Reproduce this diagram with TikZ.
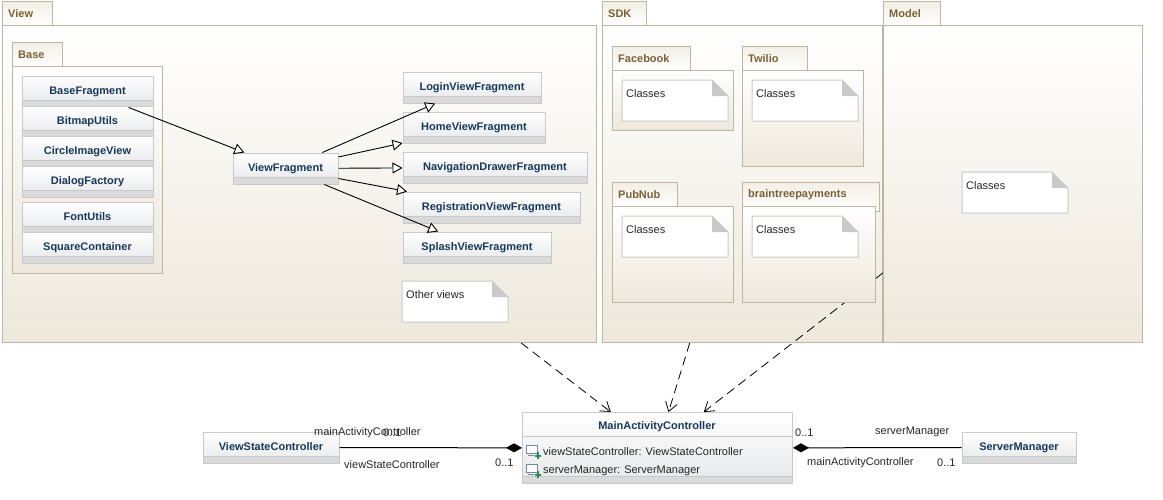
\documentclass[tikz,border=0pt]{standalone}
\usepackage{fontspec}
\setmainfont{Liberation Sans}
\usetikzlibrary{arrows.meta}

\definecolor{pkgline}{HTML}{BDB6A2}
\definecolor{pkgbottom}{HTML}{EEE8DC}
\definecolor{pkgtext}{HTML}{7A6134}
\definecolor{classline}{HTML}{C9C9C9}
\definecolor{classbottom}{HTML}{E6E7E9}
\definecolor{classstrip}{HTML}{DADADA}
\definecolor{classtext}{HTML}{17395A}
\definecolor{foldgray}{HTML}{C9C9C9}
\definecolor{iconblue}{HTML}{6F8CA3}
\definecolor{icongreen}{HTML}{2B8A55}

\tikzset{
	pkgbody/.style={draw=pkgline, line width=1pt, top color=white, bottom color=pkgbottom},
	pkgtab/.style={draw=pkgline, line width=1pt, top color=pkgbottom!70, bottom color=white},
	pkgframe/.style={anchor=north west, inner sep=0pt},
	pkgname/.style={anchor=west, inner sep=0pt, text=pkgtext, font=\fontsize{11}{13}\selectfont\bfseries},
	classbox/.style={anchor=north west, inner sep=0pt, minimum height=31pt, draw=classline, line width=1pt,
		top color=white, bottom color=classbottom, text=classtext, font=\fontsize{11}{13}\selectfont\bfseries,
		path picture={\fill[classstrip] ([yshift=7pt]path picture bounding box.south west) rectangle (path picture bounding box.south east);
			\draw[classline, line width=1pt] ([yshift=7pt]path picture bounding box.south west) -- ([yshift=7pt]path picture bounding box.south east);}},
	txt/.style={anchor=west, inner sep=0pt, text=black!85, font=\fontsize{11}{13}\selectfont},
	inherits/.style={line width=0.9pt, -{Triangle[fill=white, length=10pt, width=11pt, line width=0.9pt]}},
	depends/.style={line width=0.8pt, dash pattern=on 9pt off 5.5pt, -{Straight Barb[length=9pt, width=12pt, line width=0.8pt]}},
	composes/.style={line width=1pt, {Diamond[length=16pt, width=9pt]}-}
}

% tab and body of a package: left, top, tab width, body width, bottom
\newcommand{\pkgdraw}[5]{
	\path[pkgtab] (#1,#2) rectangle (#1+#3,#2+25);
	\path[pkgbody] (#1,#2+24.5) rectangle (#1+#4,#5);
}
% the same with named frame and title: name, left, top, tab width, body width, bottom, title
\newcommand{\package}[7]{
	\pkgdraw{#2}{#3}{#4}{#5}{#6}
	\node[pkgframe, minimum width=#5pt, minimum height={(#6-#3)*1pt}] (#1) at (#2,#3) {};
	\node[pkgname] (#1name) at (#2+6,#3+12.7) {#7};
}
% name, left, top, width, text
\newcommand{\classnode}[5]{
	\node[classbox, minimum width=#4pt] (#1) at (#2-0.5,#3-0.5) {\raisebox{2.5pt}{#5}};
}
% name, left, top, text
\newcommand{\notenode}[4]{
	\path[draw=classline, line width=1pt, fill=white] (#2,#3) -- (#2+90,#3) -- (#2+106,#3+16) -- (#2+106,#3+41) -- (#2,#3+41) -- cycle;
	\fill[foldgray] (#2+90,#3) -- (#2+106,#3+16) -- (#2+90,#3+16) -- cycle;
	\node[txt] (#1) at (#2+4,#3+14) {#4};
}
% attribute icon at left, top
\newcommand{\attricon}[2]{
	\draw[fill=white, draw=iconblue, line width=1pt] (#1,#2) rectangle (#1+11,#2+8);
	\draw[draw=iconblue, line width=1pt] (#1+2,#2+10.5) -- (#1+8,#2+10.5);
	\draw[draw=icongreen, line width=2pt] (#1+8.5,#2+10.5) -- (#1+15,#2+10.5) (#1+11.7,#2+7.3) -- (#1+11.7,#2+13.7);
}

\begin{document}
\begin{tikzpicture}[x=1pt,y=1pt,yscale=-1,xscale=1]
	\useasboundingbox (0,0) rectangle (1163,499);

	% View package
	\package{View}{2}{1}{50}{594}{342.5}{View}
	\package{Base}{12}{42}{50}{150}{273.5}{Base}
	\classnode{BaseFragment}{22}{76}{131}{BaseFragment}
	\classnode{BitmapUtils}{22}{106}{131}{BitmapUtils}
	\classnode{CircleImageView}{22}{136}{131}{CircleImageView}
	\classnode{DialogFactory}{22}{166}{131}{DialogFactory}
	\classnode{FontUtils}{22}{202}{131}{FontUtils}
	\classnode{SquareContainer}{22}{232}{131}{SquareContainer}
	\classnode{ViewFragment}{233}{153}{105}{ViewFragment}
	\classnode{LoginViewFragment}{403}{72}{138}{LoginViewFragment}
	\classnode{HomeViewFragment}{403}{112}{142}{HomeViewFragment}
	\classnode{NavigationDrawerFragment}{403}{152}{184}{NavigationDrawerFragment}
	\classnode{RegistrationViewFragment}{403}{192}{177}{RegistrationViewFragment}
	\classnode{SplashViewFragment}{403}{232}{148}{SplashViewFragment}
	\notenode{OtherViews}{402}{281}{Other views}

	\draw[inherits] (BaseFragment) -- (ViewFragment);
	\draw[inherits] (ViewFragment) -- (LoginViewFragment);
	\draw[inherits] (ViewFragment) -- (HomeViewFragment);
	\draw[inherits] (ViewFragment) -- (NavigationDrawerFragment);
	\draw[inherits] (ViewFragment) -- (RegistrationViewFragment);
	\draw[inherits] (ViewFragment) -- (SplashViewFragment);

	% SDK package
	\package{SDK}{602}{1}{44}{280}{342.5}{SDK}
	\package{Facebook}{612}{46}{78}{121}{130.5}{Facebook}
	\notenode{FacebookClasses}{622}{80}{Classes}
	\package{Twilio}{742}{46}{65}{121}{166.5}{Twilio}
	\notenode{TwilioClasses}{752}{80}{Classes}
	\package{PubNub}{612}{182}{65}{121}{302.5}{PubNub}
	\notenode{PubNubClasses}{622}{216}{Classes}

	% controller classes
	\node[classbox, minimum width=270pt, minimum height=71pt] (MainActivityController) at (522,412) {};
	\node[anchor=center, inner sep=0pt, text=classtext, font=\fontsize{11}{13}\selectfont\bfseries] (MainName) at (657,426.5) {MainActivityController};
	\draw[classline, line width=1pt] (522,436) -- (792,436);
	\attricon{526}{445}
	\node[txt] (MainAttrOne) at (543,451.5) {viewStateController: ViewStateController};
	\attricon{526}{464}
	\node[txt] (MainAttrTwo) at (543,470.5) {serverManager: ServerManager};
	\classnode{ViewStateController}{203}{432}{136}{ViewStateController}
	\classnode{ServerManager}{962}{432}{114}{ServerManager}

	\draw[composes] (MainActivityController) -- (ViewStateController);
	\draw[composes] (MainActivityController) -- (ServerManager);
	\node[txt] (LeftRoleTop) at (314,432.5) {mainActivityController};
	\node[txt] (LeftMultTop) at (383,432.5) {0..1};
	\node[txt] (LeftRoleBot) at (344,464.5) {viewStateController};
	\node[txt] (LeftMultBot) at (495,462.5) {0..1};
	\node[txt] (RightMultTop) at (795,432.5) {0..1};
	\node[txt] (RightRoleTop) at (875,431.5) {serverManager};
	\node[txt] (RightRoleBot) at (807,462.5) {mainActivityController};
	\node[txt] (RightMultBot) at (937,462.5) {0..1};

	% dependencies, the Model one runs behind braintreepayments
	\node[pkgframe, minimum width=259pt, minimum height=342pt] (Model) at (883,1) {};
	\draw[depends] (View) -- (MainActivityController);
	\draw[depends] (SDK) -- (MainActivityController);
	\draw[depends] (Model) -- (MainActivityController);

	\path[pkgtab] (742,182) rectangle (879,211);
	\path[pkgbody] (742,206.5) rectangle (875,302.5);
	\node[pkgname] (braintreepaymentsname) at (748,194.7) {braintreepayments};
	\notenode{braintreepaymentsClasses}{752}{216}{Classes}

	% Model package
	\pkgdraw{883}{1}{57}{259}{342.5}
	\node[pkgname] (Modelname) at (889,13.7) {Model};
	\notenode{ModelClasses}{962}{172}{Classes}
\end{tikzpicture}
\end{document}
